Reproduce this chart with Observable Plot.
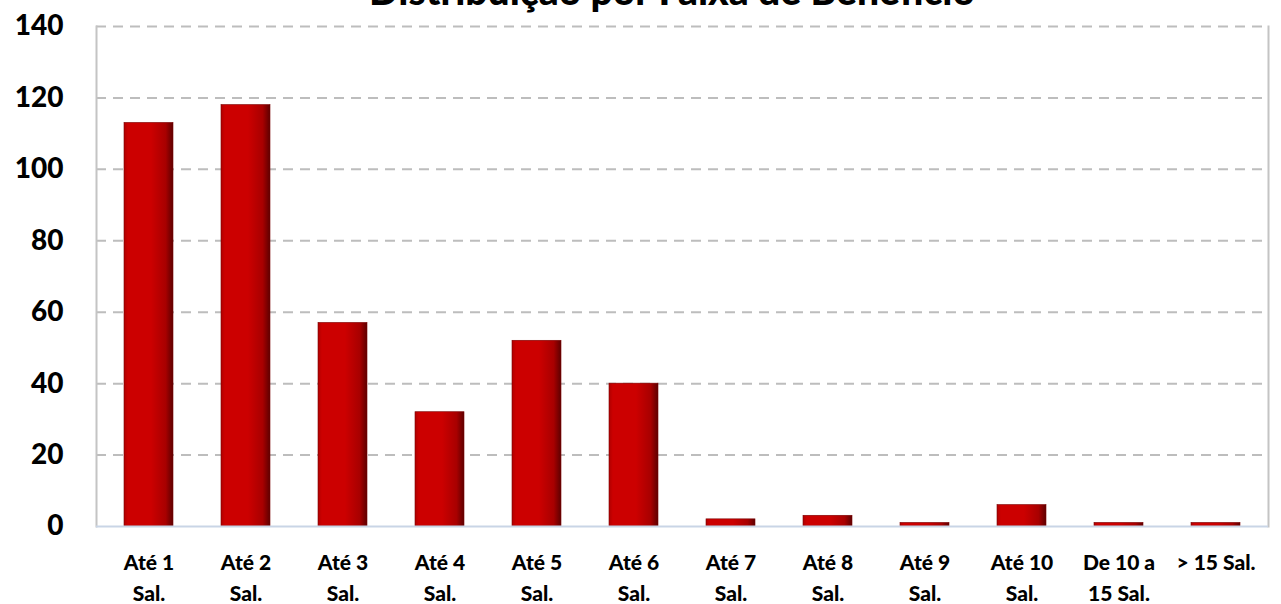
<!DOCTYPE html>
<html>
<head>
<meta charset="utf-8">
<script src="https://cdn.jsdelivr.net/npm/d3@7"></script>
<script src="https://cdn.jsdelivr.net/npm/@observablehq/plot@0.6"></script>
<style>
  html, body { margin: 0; padding: 0; background: #fff; overflow: hidden; }
  #wrap { position: relative; width: 1281px; height: 604px; overflow: hidden; }
  #title { position: absolute; top: -29px; left: 0; width: 1344px; text-align: center;
    font-family: Lato, "Open Sans", sans-serif; font-weight: 900; font-size: 39px; line-height: 39px; color: #000; }
  #chart { position: absolute; top: 0; left: 0; }
</style>
</head>
<body>
<div id="wrap">
  <div id="chart"></div>
  <div id="title">Distribuição por Faixa de Benefício</div>
</div>
<script>
const categories = ["Até 1 Sal.", "Até 2 Sal.", "Até 3 Sal.", "Até 4 Sal.", "Até 5 Sal.", "Até 6 Sal.", "Até 7 Sal.", "Até 8 Sal.", "Até 9 Sal.", "Até 10 Sal.", "De 10 a 15 Sal.", "> 15 Sal."];
const labels = ["Até 1\nSal.", "Até 2\nSal.", "Até 3\nSal.", "Até 4\nSal.", "Até 5\nSal.", "Até 6\nSal.", "Até 7\nSal.", "Até 8\nSal.", "Até 9\nSal.", "Até 10\nSal.", "De 10 a\n15 Sal.", "> 15 Sal."];
const values = [113, 118, 57, 32, 52, 40, 2, 3, 1, 6, 1, 1];
const yTicks = [0, 20, 40, 60, 80, 100, 120, 140];

const data = categories.map((c, i) => ({category: c, value: values[i], label: labels[i]}));

const font = "Lato, 'Open Sans', sans-serif";

const chart = Plot.plot({
  width: 1281,
  height: 604,
  marginLeft: 96,
  marginRight: 13,
  marginTop: 26,
  marginBottom: 78,
  style: {fontFamily: font, background: "#fff"},
  x: {domain: categories, paddingInner: 0.5, paddingOuter: 0.25, axis: null},
  y: {domain: [0, 140], ticks: yTicks, axis: null},
  marks: [
    Plot.gridY(yTicks.filter(t => t > 0), {stroke: "#bdbdbd", strokeOpacity: 1, strokeWidth: 2, strokeDasharray: "10,7"}),
    Plot.frame({anchor: "left", stroke: "#c4c4c4", strokeWidth: 2}),
    Plot.frame({anchor: "right", stroke: "#c4c4c4", strokeWidth: 2}),
    Plot.barY(data, {x: "category", y: "value", fill: "url(#barGrad)", stroke: "#7a0000", strokeWidth: 0.6}),
    Plot.ruleY([0], {stroke: "#c9d5e6", strokeWidth: 2}),
    Plot.axisY({ticks: yTicks, tickSize: 0, tickPadding: 33, fontSize: 28, fontWeight: 900, color: "#000", label: null}),
    Plot.text(data, {x: "category", text: "label", frameAnchor: "bottom", lineAnchor: "top", dy: 22,
      fontSize: 21, fontWeight: 900, lineHeight: 1.45, fill: "#000"})
  ]
});

const ns = "http://www.w3.org/2000/svg";
const defs = document.createElementNS(ns, "defs");
defs.innerHTML = `
  <linearGradient id="barGrad" x1="0" y1="0" x2="1" y2="0">
    <stop offset="0" stop-color="#b00000"/>
    <stop offset="0.08" stop-color="#cc0000"/>
    <stop offset="0.55" stop-color="#cc0000"/>
    <stop offset="0.85" stop-color="#a80000"/>
    <stop offset="1" stop-color="#5e0000"/>
  </linearGradient>`;
chart.insertBefore(defs, chart.firstChild);
document.getElementById("chart").appendChild(chart);
</script>
</body>
</html>
